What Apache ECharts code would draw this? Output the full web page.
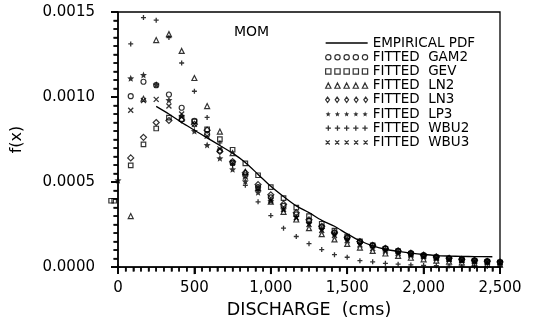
<!DOCTYPE html>
<html>
<head>
<meta charset="utf-8">
<script src="https://cdn.jsdelivr.net/npm/echarts@6/dist/echarts.min.js"></script>
<style>
html,body{margin:0;padding:0;background:#fff;}
#chart{width:533px;height:324px;}
</style>
</head>
<body>
<div id="chart"></div>
<script>
// ---- data ----
const discharge = [83.3,166.7,250,333.3,416.7,500,583.3,666.7,750,833.3,916.7,1000,1083.3,1166.7,1250,1333.3,1416.7,1500,1583.3,1666.7,1750,1833.3,1916.7,2000,2083.3,2166.7,2250,2333.3,2416.7,2500];

const empiricalX = [250,333,417,500,583,667,750,833,917,1000,1083,1167,1250,1333,1417,1500,1583,1667,1750,1833,1917,2000,2083,2167,2250,2333,2450];
const empiricalY = [0.000945,0.0009,0.00085,0.000805,0.00076,0.000715,0.00067,0.000615,0.000545,0.000475,0.000415,0.00036,0.00032,0.000275,0.00024,0.000195,0.000155,0.000125,0.000105,0.000092,0.000082,0.000074,0.000068,0.000065,0.000063,0.000062,0.000061];

const gam2 = [0.001005,0.00109,0.00107,0.001015,0.000937,0.00086,0.00078,0.000685,0.000613,0.00054,0.00047,0.00041,0.00036,0.00031,0.00027,0.000235,0.0002,0.00017,0.000148,0.000128,0.00011,0.000095,0.000082,0.00007,0.00006,0.000052,0.000045,0.00004,0.000035,0.00003];
const gev = [0.000598,0.000722,0.000815,0.000879,0.00087,0.000856,0.00081,0.000753,0.00069,0.00061,0.00054,0.00047,0.000405,0.00035,0.0003,0.000255,0.000215,0.00018,0.000152,0.000128,0.000108,0.000092,0.000078,0.000066,0.000056,0.000048,0.000041,0.000036,0.000031,0.000027];
const ln2 = [0.0003,0.00099,0.001335,0.00137,0.001271,0.001112,0.000947,0.000797,0.00067,0.00056,0.000465,0.000385,0.000325,0.00028,0.000229,0.000194,0.000163,0.000136,0.000115,0.000095,0.00008,0.000066,0.000055,0.000046,0.000038,0.000032,0.000027,0.000022,0.000018,0.000015];
const ln3 = [0.000642,0.000763,0.00085,0.000862,0.000865,0.00084,0.000805,0.00068,0.00062,0.000555,0.000485,0.000425,0.00037,0.00032,0.000278,0.00024,0.000205,0.000175,0.00015,0.000128,0.00011,0.000095,0.000082,0.00007,0.00006,0.000052,0.000045,0.000039,0.000034,0.00003];
const lp3 = [0.00111,0.00113,0.001073,0.000982,0.000889,0.0008,0.000718,0.00064,0.000575,0.000505,0.00044,0.00039,0.00034,0.000295,0.000258,0.000225,0.000195,0.000168,0.000145,0.000125,0.000107,0.000092,0.00008,0.00007,0.00006,0.000052,0.000046,0.00004,0.000035,0.00003];
const wbu2 = [0.001312,0.001467,0.001452,0.00135,0.0012,0.001034,0.00088,0.00073,0.0006,0.000481,0.000384,0.000303,0.000229,0.00018,0.000138,0.000103,0.000073,0.000058,0.000038,0.000031,0.000022,0.000017,0.000013,0.00001,0.000008,0.000006,0.000005,0.000004,0.000003,0.000002];
const wbu3 = [0.000922,0.00098,0.000986,0.000947,0.0009,0.00084,0.00077,0.000695,0.000615,0.00053,0.00046,0.000395,0.00034,0.00029,0.00025,0.000215,0.000185,0.000155,0.00013,0.00011,0.000095,0.00008,0.00007,0.00006,0.000052,0.000045,0.00004,0.000035,0.00003,0.000026];

// extra points near the origin
const lp3Origin = [[0, 0.00051]];
const gevOrigin = [[-45, 0.00039], [-25, 0.00039]];
const wbu2Origin = [[0, 0]];

const xTicks = [0, 500, 1000, 1500, 2000, 2500];
const yTicks = [0, 0.0005, 0.0010, 0.0015];
const xMinorStep = 50;
const yMinorStep = 0.00005;

// ---- shapes ----
const shapes = {
  circle: (cx, cy, r) => `M${cx - r},${cy}a${r},${r} 0 1,0 ${2 * r},0a${r},${r} 0 1,0 ${-2 * r},0`,
  square: (cx, cy, r) => `M${cx - r},${cy - r}h${2 * r}v${2 * r}h${-2 * r}z`,
  triangle: (cx, cy, r) => `M${cx},${cy - r}L${cx + r},${cy + r}L${cx - r},${cy + r}z`,
  diamond: (cx, cy, r) => `M${cx},${cy - r}L${cx + r * 0.7},${cy}L${cx},${cy + r}L${cx - r * 0.7},${cy}z`,
  star: (cx, cy, r) => {
    let s = '';
    for (let i = 0; i < 10; i++) {
      const a = -Math.PI / 2 + i * Math.PI / 5;
      const rr = i % 2 === 0 ? r : r * 0.45;
      s += (i === 0 ? 'M' : 'L') + (cx + rr * Math.cos(a)).toFixed(2) + ',' + (cy + rr * Math.sin(a)).toFixed(2);
    }
    return s + 'z';
  },
  plus: (cx, cy, r) => `M${cx - r},${cy}h${2 * r}M${cx},${cy - r}v${2 * r}`,
  cross: (cx, cy, r) => { const q = r * 0.75; return `M${cx - q},${cy - q}L${cx + q},${cy + q}M${cx + q},${cy - q}L${cx - q},${cy + q}`; }
};
const sym = (k) => 'path://' + shapes[k](5, 5, 5);
const rowIcon = (k) => {
  let s = '';
  for (let i = 0; i < 5; i++) s += shapes[k](3 + i * 9, 3, 2.6);
  return 'path://' + s;
};
const hollow = { color: 'rgba(0,0,0,0)', borderColor: '#000', borderWidth: 1.2 };
const stroked = { color: 'rgba(0,0,0,0)', borderColor: '#000', borderWidth: 1.3 };
const filled = { color: '#000', borderWidth: 0 };

const defs = [
  { name: 'FITTED  GAM2', data: gam2, shape: 'circle', size: 5, style: hollow },
  { name: 'FITTED  GEV', data: gev, shape: 'square', size: 4.5, style: hollow, extra: gevOrigin },
  { name: 'FITTED  LN2', data: ln2, shape: 'triangle', size: 5, style: hollow },
  { name: 'FITTED  LN3', data: ln3, shape: 'diamond', size: 6, style: hollow },
  { name: 'FITTED  LP3', data: lp3, shape: 'star', size: 7, style: filled, extra: lp3Origin },
  { name: 'FITTED  WBU2', data: wbu2, shape: 'plus', size: 5, style: stroked, extra: wbu2Origin },
  { name: 'FITTED  WBU3', data: wbu3, shape: 'cross', size: 5, style: stroked }
];

const series = [{
  name: 'EMPIRICAL PDF',
  type: 'line',
  data: empiricalX.map((x, i) => [x, empiricalY[i]]),
  showSymbol: false,
  symbol: 'none',
  smooth: 0.3,
  itemStyle: { color: '#000' },
  lineStyle: { color: '#000', width: 1.3 },
  z: 1
}];
defs.forEach(d => {
  const pts = discharge.map((x, i) => [x, d.data[i]]);
  series.push({
    name: d.name,
    type: 'scatter',
    data: (d.extra || []).concat(pts),
    symbol: sym(d.shape),
    symbolSize: d.size,
    itemStyle: d.style,
    clip: false,
    z: 2
  });
});

// axis tick marks (outside the frame), placed through the axes' own scales
const xMax = xTicks[xTicks.length - 1], yMax = yTicks[yTicks.length - 1];
const xMinorVals = [], yMinorVals = [];
for (let i = 0; i <= Math.round(xMax / xMinorStep); i++) if (i % 10 !== 0) xMinorVals.push(i * xMinorStep);
for (let i = 0; i <= Math.round(yMax / yMinorStep); i++) if (i % 10 !== 0) yMinorVals.push(i * yMinorStep);
const tickSeries = (pts, size, offset) => ({
  type: 'scatter', silent: true, clip: false, z: 6,
  symbol: 'rect', symbolSize: size, symbolOffset: offset,
  itemStyle: { color: '#000' },
  emphasis: { disabled: true },
  data: pts
});
series.push(tickSeries(xTicks.map(v => [v, 0]), [1.8, 7], [0, 3.5]));
series.push(tickSeries(xMinorVals.map(v => [v, 0]), [1.5, 4.5], [0, 2.25]));
series.push(tickSeries(yTicks.map(v => [0, v]), [7, 1.8], [-3.5, 0]));
series.push(tickSeries(yMinorVals.map(v => [0, v]), [4.5, 1.5], [-2.25, 0]));

const legendData = [{ name: 'EMPIRICAL PDF', icon: 'path://M0,0H42V1.3H0Z', itemStyle: { color: '#000', borderWidth: 0 } }]
  .concat(defs.map(d => ({ name: d.name, icon: rowIcon(d.shape), itemStyle: d.style })));

const font = 'DejaVu Sans';
const chart = echarts.init(document.getElementById('chart'), null, { renderer: 'canvas' });
chart.setOption({
  animation: false,
  backgroundColor: '#fff',
  title: {
    text: 'MOM', left: 234, top: 25, padding: 0,
    textStyle: { fontFamily: font, fontSize: 14, fontWeight: 'normal', color: '#000' }
  },
  legend: {
    orient: 'vertical',
    left: 325, top: 36,
    padding: 0,
    itemWidth: 42, itemHeight: 7,
    itemGap: 0.2,
    symbolKeepAspect: true,
    selectedMode: false,
    textStyle: { fontFamily: font, fontSize: 13.5, lineHeight: 14, color: '#000' },
    data: legendData
  },
  grid: {
    left: 118, right: 33, top: 12, bottom: 55,
    show: true, borderColor: '#000', borderWidth: 1.3, backgroundColor: 'transparent'
  },
  xAxis: {
    type: 'value', position: 'bottom', min: xTicks[0], max: xMax, interval: 500,
    name: 'DISCHARGE  (cms)', nameLocation: 'middle', nameGap: 30,
    nameTextStyle: { fontFamily: font, fontSize: 17.5, color: '#000' },
    axisLine: { show: true, onZero: false, lineStyle: { color: '#000', width: 1.5 } },
    axisTick: { show: true, inside: false, length: 7, lineStyle: { color: '#000', width: 1.8 } },
    minorTick: { show: true, splitNumber: 10, length: 4.5, lineStyle: { color: '#000', width: 1.5 } },
    splitLine: { show: false },
    axisLabel: { margin: 14, fontFamily: font, fontSize: 15, color: '#000' }
  },
  yAxis: {
    type: 'value', position: 'left', min: yTicks[0], max: yMax, interval: 0.0005,
    name: 'f(x)', nameLocation: 'middle', nameGap: 93, nameRotate: 90,
    nameTextStyle: { fontFamily: font, fontSize: 16, color: '#000' },
    axisLine: { show: true, onZero: false, lineStyle: { color: '#000', width: 1.5 } },
    axisTick: { show: true, inside: false, length: 7, lineStyle: { color: '#000', width: 1.8 } },
    minorTick: { show: true, splitNumber: 10, length: 4.5, lineStyle: { color: '#000', width: 1.5 } },
    splitLine: { show: false },
    axisLabel: { margin: 23, fontFamily: font, fontSize: 15, color: '#000', formatter: v => v.toFixed(4) }
  },
  series: series
});
</script>
</body>
</html>
